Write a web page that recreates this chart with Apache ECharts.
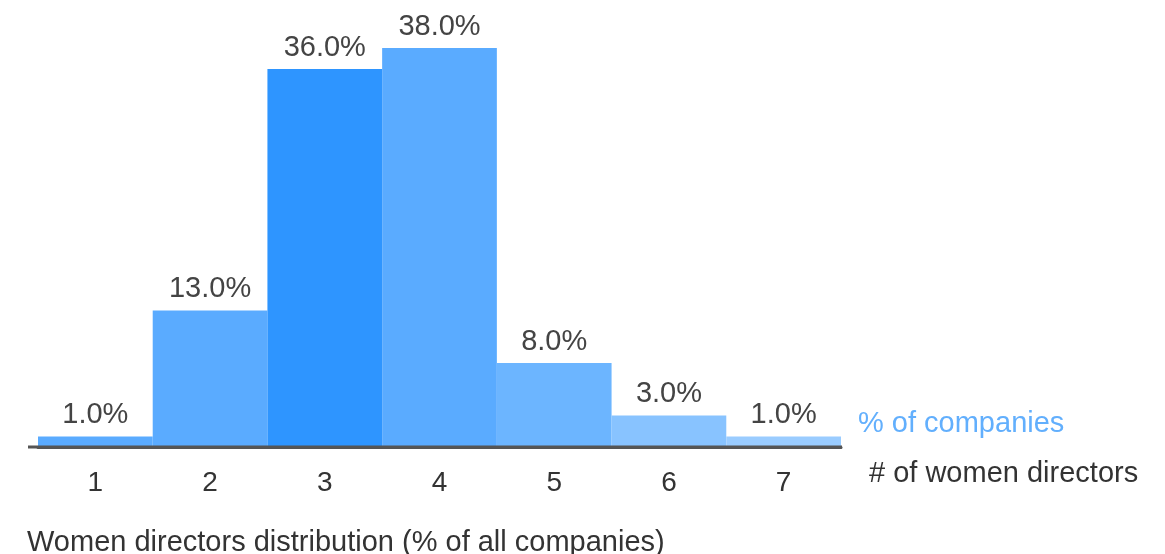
<!DOCTYPE html>
<html>
<head>
<meta charset="utf-8">
<script src="https://cdn.jsdelivr.net/npm/echarts@6/dist/echarts.min.js"></script>
<style>
html,body{margin:0;padding:0;background:#fff;}
#c{width:1165px;height:554px;}
</style>
</head>
<body>
<div id="c"></div>
<script>
const categories = ['1', '2', '3', '4', '5', '6', '7'];
const values = [1.0, 13.0, 36.0, 38.0, 8.0, 3.0, 1.0];
const barColors = ['#5aabff', '#5aabff', '#2e95ff', '#5aabff', '#6cb5ff', '#88c3ff', '#9accff'];
const seriesName = '% of companies';
const xAxisName = '# of women directors';
const chartTitle = 'Women directors distribution (% of all companies)';

const FONT = '"Liberation Sans", Arial, sans-serif';
const chart = echarts.init(document.getElementById('c'));
const option = {
  animation: false,
  title: [
    { text: chartTitle, left: 22, top: 523, textStyle: { fontFamily: FONT, fontSize: 29, fontWeight: 'normal', color: '#333' } },
    { text: xAxisName, left: 864, top: 454, textStyle: { fontFamily: FONT, fontSize: 29, fontWeight: 'normal', color: '#333' } }
  ],
  legend: {
    data: [seriesName], left: 848, top: 404, itemWidth: 0, itemHeight: 0, icon: 'rect',
    textStyle: { fontFamily: FONT, fontSize: 29, color: '#62affd' }
  },
  grid: { left: 38, right: 324, top: 48, bottom: 107 },
  xAxis: {
    type: 'category', data: categories,
    axisLine: { show: true, lineStyle: { color: '#555', width: 3 } },
    axisTick: { show: false },
    axisLabel: { fontFamily: FONT, fontSize: 28, color: '#333', margin: 22 }
  },
  yAxis: { type: 'value', min: 0, max: 38, show: false, splitLine: { show: false } },
  series: [{
    name: seriesName, type: 'bar', barWidth: '100%', barCategoryGap: '0%',
    data: values.map((v, i) => ({ value: v, itemStyle: { color: barColors[i] } })),
    itemStyle: { color: '#5aabff' },
    label: { show: true, position: 'top', distance: 7, fontFamily: FONT, fontSize: 29, color: '#444',
      formatter: p => p.value.toFixed(1) + '%' }
  }]
};
chart.setOption(option);
const y0 = chart.convertToPixel({ yAxisIndex: 0 }, 0);
chart.setOption({
  graphic: [{ type: 'line', shape: { x1: 28, y1: y0, x2: 842, y2: y0 }, style: { stroke: '#555', lineWidth: 3 }, z: 10 }]
});
</script>
</body>
</html>
